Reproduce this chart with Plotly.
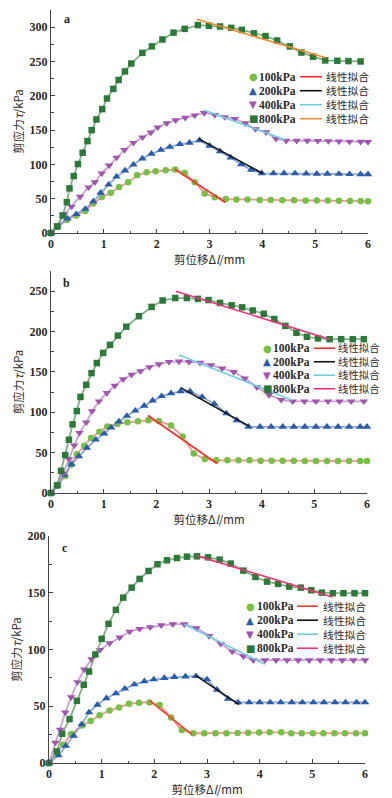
import plotly.graph_objects as go

W, H = 392, 798

# ---------------- data: panel a ----------------
x100a = [0, 0.12, 0.30, 0.48, 0.65, 0.80, 0.96, 1.13, 1.29, 1.46, 1.63, 1.81, 1.98, 2.17, 2.35, 2.53, 2.72, 2.91, 3.10, 3.31, 3.51, 3.72, 3.95, 4.16, 4.38, 4.60, 4.82, 5.03, 5.24, 5.45, 5.66, 5.86, 6.0]
y100a = [0, 9, 19, 25.5, 32, 43, 52.5, 58.5, 67, 74, 84, 88.5, 90, 91.5, 92.5, 87.5, 74, 57.5, 52, 49.5, 49, 48.7, 48.2, 48, 47.8, 47.7, 47.5, 47.3, 47.2, 47, 46.8, 46.6, 46.4]
x200a = [0, 0.12, 0.31, 0.48, 0.65, 0.80, 0.94, 1.09, 1.24, 1.40, 1.56, 1.73, 1.90, 2.08, 2.25, 2.44, 2.62, 2.81, 3.00, 3.20, 3.40, 3.60, 3.79, 3.99, 4.21, 4.41, 4.62, 4.83, 5.03, 5.23, 5.45, 5.65, 5.86, 6.0]
y200a = [0, 9.5, 21, 27.5, 35, 46, 58.5, 70.5, 82, 91, 99.5, 108.5, 115.5, 121, 125.5, 129.5, 131.5, 135, 127, 119, 110, 100, 92, 87, 87, 87, 86.8, 86.5, 86.3, 86.2, 86, 85.8, 85.6, 85.5]
x400a = [0, 0.12, 0.25, 0.39, 0.55, 0.71, 0.83, 0.96, 1.10, 1.24, 1.39, 1.56, 1.73, 1.89, 2.02, 2.19, 2.36, 2.54, 2.72, 2.90, 3.10, 3.29, 3.48, 3.68, 3.87, 4.07, 4.26, 4.45, 4.65, 4.85, 5.05, 5.25, 5.45, 5.65, 5.86, 6.0]
y400a = [0, 11, 27, 38.5, 53, 66.5, 74, 87, 98.5, 110, 121, 131.5, 139.5, 146.5, 154, 160, 164.5, 168, 171.5, 175, 172, 169, 166.5, 160, 151.5, 147, 137.5, 134.5, 134.5, 134.5, 134.3, 134, 133.7, 133.3, 133, 132.8]
x800a = [0, 0.12, 0.22, 0.30, 0.35, 0.43, 0.51, 0.60, 0.69, 0.77, 0.86, 0.97, 1.06, 1.18, 1.28, 1.40, 1.52, 1.73, 1.91, 2.11, 2.32, 2.53, 2.78, 2.99, 3.20, 3.41, 3.61, 3.84, 4.06, 4.28, 4.52, 4.74, 4.96, 5.19, 5.42, 5.63, 5.86]
y800a = [0, 9.5, 25.5, 45, 65, 83, 100.5, 117, 134, 150, 165.5, 180.5, 196, 210, 223, 235.5, 247, 262.5, 272, 282, 292, 297.5, 303, 302, 301, 299, 296, 291, 287, 280.5, 272, 263, 257, 251.5, 251, 250.5, 250]
fitx100a = [2.34, 3.30]; fity100a = [93, 44.5]
fitx200a = [2.79, 4.01]; fity200a = [137.5, 86.7]
fitx400a = [2.90, 4.43]; fity400a = [179, 136]
fitx800a = [2.76, 5.20]; fity800a = [311.5, 255.5]

# ---------------- data: panel b ----------------
x100b = [0, 0.12, 0.27, 0.38, 0.49, 0.63, 0.76, 0.92, 1.07, 1.26, 1.45, 1.65, 1.85, 2.05, 2.28, 2.50, 2.71, 2.92, 3.14, 3.35, 3.56, 3.77, 3.98, 4.19, 4.40, 4.61, 4.82, 5.03, 5.24, 5.45, 5.66, 5.87, 6.0]
y100b = [0, 9, 21, 35, 48, 58.5, 68, 76, 82.5, 85.5, 87.5, 88.8, 90, 89.3, 83.5, 70, 49, 42, 40.5, 40.5, 40.5, 40.5, 40, 40, 39.8, 39.8, 39.7, 39.7, 39.7, 39.7, 39.6, 39.6, 39.6]
x200b = [0, 0.12, 0.25, 0.39, 0.53, 0.68, 0.85, 1.01, 1.14, 1.29, 1.44, 1.60, 1.77, 1.93, 2.10, 2.28, 2.46, 2.64, 2.87, 3.10, 3.33, 3.53, 3.75, 3.97, 4.18, 4.40, 4.61, 4.82, 5.03, 5.24, 5.45, 5.66, 5.87, 6.0]
y200b = [0, 9.5, 22, 35.5, 45.5, 56, 66, 73.5, 81, 88.5, 95.5, 102, 108, 114.5, 120, 123.5, 126, 126, 119, 110.5, 98.5, 90, 82, 82, 82, 82, 82, 82, 82, 82, 82, 82, 82, 82]
x400b = [0, 0.12, 0.23, 0.34, 0.44, 0.54, 0.67, 0.78, 0.91, 1.06, 1.21, 1.37, 1.53, 1.70, 1.87, 2.05, 2.24, 2.43, 2.62, 2.83, 3.04, 3.25, 3.47, 3.68, 3.91, 4.14, 4.37, 4.59, 4.81, 5.03, 5.26, 5.48, 5.70, 5.94]
y400b = [0, 10, 24, 42, 59, 74.5, 87.5, 101.5, 113.5, 124, 133, 141, 146.5, 151, 156, 159.5, 162.5, 163, 162.5, 161.5, 158.5, 154.5, 150, 142, 131, 121.5, 115.5, 113.5, 113.5, 113.5, 113.5, 113.5, 113.5, 113.5]
x800b = [0, 0.12, 0.19, 0.27, 0.34, 0.41, 0.49, 0.56, 0.67, 0.77, 0.87, 0.99, 1.12, 1.27, 1.43, 1.67, 1.91, 2.12, 2.36, 2.58, 2.79, 2.99, 3.21, 3.43, 3.63, 3.83, 4.04, 4.24, 4.45, 4.66, 4.86, 5.07, 5.29, 5.51, 5.73, 5.94]
y800b = [0, 9.5, 27.5, 47, 66, 85, 101.5, 119, 134, 148.5, 161, 173.5, 183.5, 195, 206, 219, 230.5, 238.5, 241.5, 241.5, 240.5, 239, 235.5, 232.5, 230, 226, 222, 215.5, 207, 198.5, 193.5, 191.5, 190.5, 190.5, 190.5, 190.5]
fitx100b = [1.84, 3.15]; fity100b = [96, 36.5]
fitx200b = [2.46, 3.77]; fity200b = [130.5, 82.5]
fitx400b = [2.43, 4.58]; fity400b = [171, 115]
fitx800b = [2.37, 5.29]; fity800b = [250, 190.5]

# ---------------- data: panel c ----------------
x100c = [0, 0.14, 0.27, 0.42, 0.63, 0.79, 0.96, 1.15, 1.33, 1.52, 1.71, 1.91, 2.10, 2.32, 2.52, 2.74, 2.95, 3.16, 3.37, 3.58, 3.78, 3.99, 4.19, 4.41, 4.60, 4.80, 5.01, 5.21, 5.42, 5.62, 5.83, 6.0]
y100c = [0, 10.3, 16, 25.5, 33, 37, 42, 46.3, 49, 52.2, 53.1, 53.4, 51, 40, 29, 26.2, 26.2, 26.2, 26.2, 26.5, 26.7, 26.8, 27, 27, 26.3, 26.2, 26.2, 26.2, 26.2, 26.2, 26.2, 26.2]
x200c = [0, 0.18, 0.32, 0.47, 0.62, 0.76, 0.92, 1.09, 1.27, 1.44, 1.62, 1.81, 1.99, 2.19, 2.38, 2.59, 2.79, 3.00, 3.19, 3.40, 3.59, 3.80, 4.00, 4.20, 4.40, 4.61, 4.81, 5.02, 5.22, 5.43, 5.63, 5.84, 6.0]
y200c = [0, 6.7, 15, 24, 34, 44.6, 51.3, 57, 61.3, 65.5, 69.2, 72, 73.6, 74.8, 75.7, 76.2, 76.5, 73.6, 64.5, 56.6, 53.4, 53.4, 53.4, 53.4, 53.4, 53.4, 53.4, 53.4, 53.4, 53.4, 53.4, 53.4, 53.4]
x400c = [0, 0.12, 0.21, 0.31, 0.42, 0.54, 0.67, 0.81, 0.97, 1.15, 1.34, 1.53, 1.72, 1.92, 2.13, 2.35, 2.57, 2.80, 3.04, 3.26, 3.48, 3.69, 3.88, 4.10, 4.31, 4.52, 4.73, 4.94, 5.15, 5.36, 5.57, 5.78, 6.0]
y400c = [0, 18, 29.3, 44.6, 58, 71.3, 82.4, 91.5, 99.7, 105.6, 110.6, 115.8, 118.2, 119.6, 121.4, 122.3, 122.3, 118.8, 112, 105, 98.2, 94.1, 90.6, 90.6, 90.6, 90.6, 90.6, 90.6, 90.6, 90.6, 90.6, 90.6, 90.6]
x800c = [0, 0.15, 0.25, 0.39, 0.53, 0.66, 0.76, 0.88, 1.00, 1.13, 1.27, 1.41, 1.57, 1.72, 1.89, 2.06, 2.24, 2.43, 2.62, 2.81, 3.02, 3.24, 3.45, 3.69, 3.92, 4.14, 4.35, 4.56, 4.78, 4.98, 5.18, 5.39, 5.59, 5.80, 6.0]
y800c = [0, 10, 25.8, 38.7, 54.8, 68.9, 80.6, 95.6, 109.4, 122.6, 134.9, 145.7, 154.5, 162.2, 169.2, 175.1, 178.6, 180.6, 181.8, 182.1, 181.2, 179.2, 175.7, 169.5, 163.9, 159.8, 157.8, 155.4, 154.5, 152.2, 150.1, 149.6, 149.6, 149.6, 149.6]
fitx100c = [1.91, 2.72]; fity100c = [55, 25]
fitx200c = [2.79, 3.61]; fity200c = [77, 51.5]
fitx400c = [2.57, 4.10]; fity400c = [122.3, 87]
fitx800c = [2.81, 5.38]; fity800c = [182.5, 146.3]

series_names = ["100kPa", "200kPa", "400kPa", "800kPa"]
fit_name = "线性拟合"
panel_labels = ["a", "b", "c"]
y_ranges = [[0, 325], [0, 275], [0, 200]]
x_title = "剪位移Δ<i>l</i>/mm"
y_title = "剪应力<i>τ</i>/kPa"

# ---------------- styles ----------------
marker_colors = ["#76C043", "#2A5CAA", "#A055AE", "#2C7A3A"]
line_colors = ["rgba(240,130,130,0.85)", "rgba(120,150,215,0.85)", "rgba(200,150,210,0.9)", "rgba(120,165,125,0.9)"]
symbols = ["circle", "triangle-up", "triangle-down", "square"]
msizes = [6.5, 7.5, 7.5, 6.5]
fit_colors = [
    ["#FF2A2A", "#111111", "#6FCFE0", "#F28A2E"],
    ["#FF2A2A", "#111111", "#6FCFE0", "#F0307A"],
    ["#F2402A", "#111111", "#6FCFE0", "#EE3575"],
]
legend_glyphs = ["●", "▲", "▼", "■"]

panels = [
    dict(xs=[x100a, x200a, x400a, x800a], ys=[y100a, y200a, y400a, y800a],
         fx=[fitx100a, fitx200a, fitx400a, fitx800a], fy=[fity100a, fity200a, fity400a, fity800a]),
    dict(xs=[x100b, x200b, x400b, x800b], ys=[y100b, y200b, y400b, y800b],
         fx=[fitx100b, fitx200b, fitx400b, fitx800b], fy=[fity100b, fity200b, fity400b, fity800b]),
    dict(xs=[x100c, x200c, x400c, x800c], ys=[y100c, y200c, y400c, y800c],
         fx=[fitx100c, fitx200c, fitx400c, fitx800c], fy=[fity100c, fity200c, fity400c, fity800c]),
]

# pixel layout of each panel: (left, right, top, bottom)
boxes = [(51, 368, 10, 233), (51, 367, 271, 493), (49, 365, 536, 763)]
# legend layout per panel: centre y of block, row step, marker x, text x, line x0, line x1, fit text x
legend_px = [
    (97.7, 14.0, 253, 258, 300, 322, 325),
    (368.5, 13.5, 267, 272, 314, 335, 337),
    (627.2, 14.0, 250, 256, 297, 318, 322),
]
label_px = [(67, 19), (66, 283), (65, 548)]

def px2x(px):
    return px / W

def px2y(py):
    return 1 - py / H

fig = go.Figure()
serif = "Liberation Serif, Times New Roman, serif"
cjk = "Noto Sans CJK SC, Liberation Serif, serif"
axis_color = "#444444"
text_color = "#2a2a2a"

annotations = []
shapes = []
for p, panel in enumerate(panels):
    sfx = "" if p == 0 else str(p + 1)
    xa, ya = "x" + sfx, "y" + sfx
    for k in range(4):
        fig.add_trace(go.Scatter(
            x=panel["xs"][k], y=panel["ys"][k], xaxis=xa, yaxis=ya,
            mode="lines+markers", name=series_names[k], showlegend=False,
            line=dict(color=line_colors[k], width=1.8),
            marker=dict(symbol=symbols[k], size=msizes[k], color=marker_colors[k], line=dict(width=0)),
            cliponaxis=False,
        ))
    for k in range(4):
        fig.add_trace(go.Scatter(
            x=panel["fx"][k], y=panel["fy"][k], xaxis=xa, yaxis=ya,
            mode="lines", name=fit_name, showlegend=False,
            line=dict(color=fit_colors[p][k], width=1.6),
        ))
    l, r, t, b = boxes[p]
    tickfont = dict(family=serif, size=12, color=text_color, weight="bold")
    fig.layout["xaxis" + sfx] = dict(
        domain=[px2x(l), px2x(r)], anchor=ya, range=[0, 6], dtick=1,
        showline=True, linecolor=axis_color, linewidth=1, showgrid=False, zeroline=False,
        ticks="inside", ticklen=4, tickcolor=axis_color, tickwidth=1,
        minor=dict(ticks="inside", ticklen=2.5, dtick=0.5, tickcolor=axis_color, showgrid=False),
        tickfont=tickfont,
        title=dict(text=x_title, font=dict(family=cjk, size=11.5, color=text_color), standoff=3),
        automargin=False,
    )
    fig.layout["yaxis" + sfx] = dict(
        domain=[px2y(b), px2y(t)], anchor=xa, range=y_ranges[p], dtick=50,
        showline=True, linecolor=axis_color, linewidth=1, showgrid=False, zeroline=False,
        ticks="inside", ticklen=4, tickcolor=axis_color, tickwidth=1,
        minor=dict(ticks="inside", ticklen=2.5, dtick=25, tickcolor=axis_color, showgrid=False),
        tickfont=tickfont,
        title=dict(text=y_title, font=dict(family=cjk, size=11.5, color=text_color), standoff=3),
        automargin=False,
    )
    # panel label
    lx, ly = label_px[p]
    annotations.append(dict(x=px2x(lx), y=px2y(ly), xref="paper", yref="paper", text="<b>" + panel_labels[p] + "</b>",
                            showarrow=False, font=dict(family=serif, size=12, color="#222222"),
                            xanchor="center", yanchor="middle"))
    # legend (two columns, four rows)
    yc, dy, mx, tx, lx0, lx1, ftx = legend_px[p]
    for k in range(4):
        yy = yc + (k - 1.5) * dy
        annotations.append(dict(x=px2x(mx), y=px2y(yy), xref="paper", yref="paper", text=legend_glyphs[k],
                                showarrow=False, font=dict(family="DejaVu Sans", size=10, color=marker_colors[k]),
                                xanchor="center", yanchor="middle", borderpad=0))
        annotations.append(dict(x=px2x(tx), y=px2y(yy), xref="paper", yref="paper", text="<b>" + series_names[k] + "</b>",
                                showarrow=False, font=dict(family=serif, size=11.5, color=text_color),
                                xanchor="left", yanchor="middle", borderpad=0))
        shapes.append(dict(type="line", xref="paper", yref="paper", x0=px2x(lx0), x1=px2x(lx1),
                           y0=px2y(yy), y1=px2y(yy), line=dict(color=fit_colors[p][k], width=1.6)))
    annotations.append(dict(x=px2x(ftx), y=px2y(yc), xref="paper", yref="paper",
                            text="<br>".join([fit_name] * 4),
                            showarrow=False, font=dict(family=cjk, size=dy / 1.3, color=text_color),
                            xanchor="left", yanchor="middle", align="left", borderpad=0))

fig.update_layout(
    width=W, height=H, autosize=False,
    margin=dict(l=0, r=0, t=0, b=0),
    paper_bgcolor="white", plot_bgcolor="white",
    showlegend=False,
    annotations=annotations, shapes=shapes,
)

fig.write_html("out.html", config={"displayModeBar": False},
               post_script="document.body.style.margin='0';")
